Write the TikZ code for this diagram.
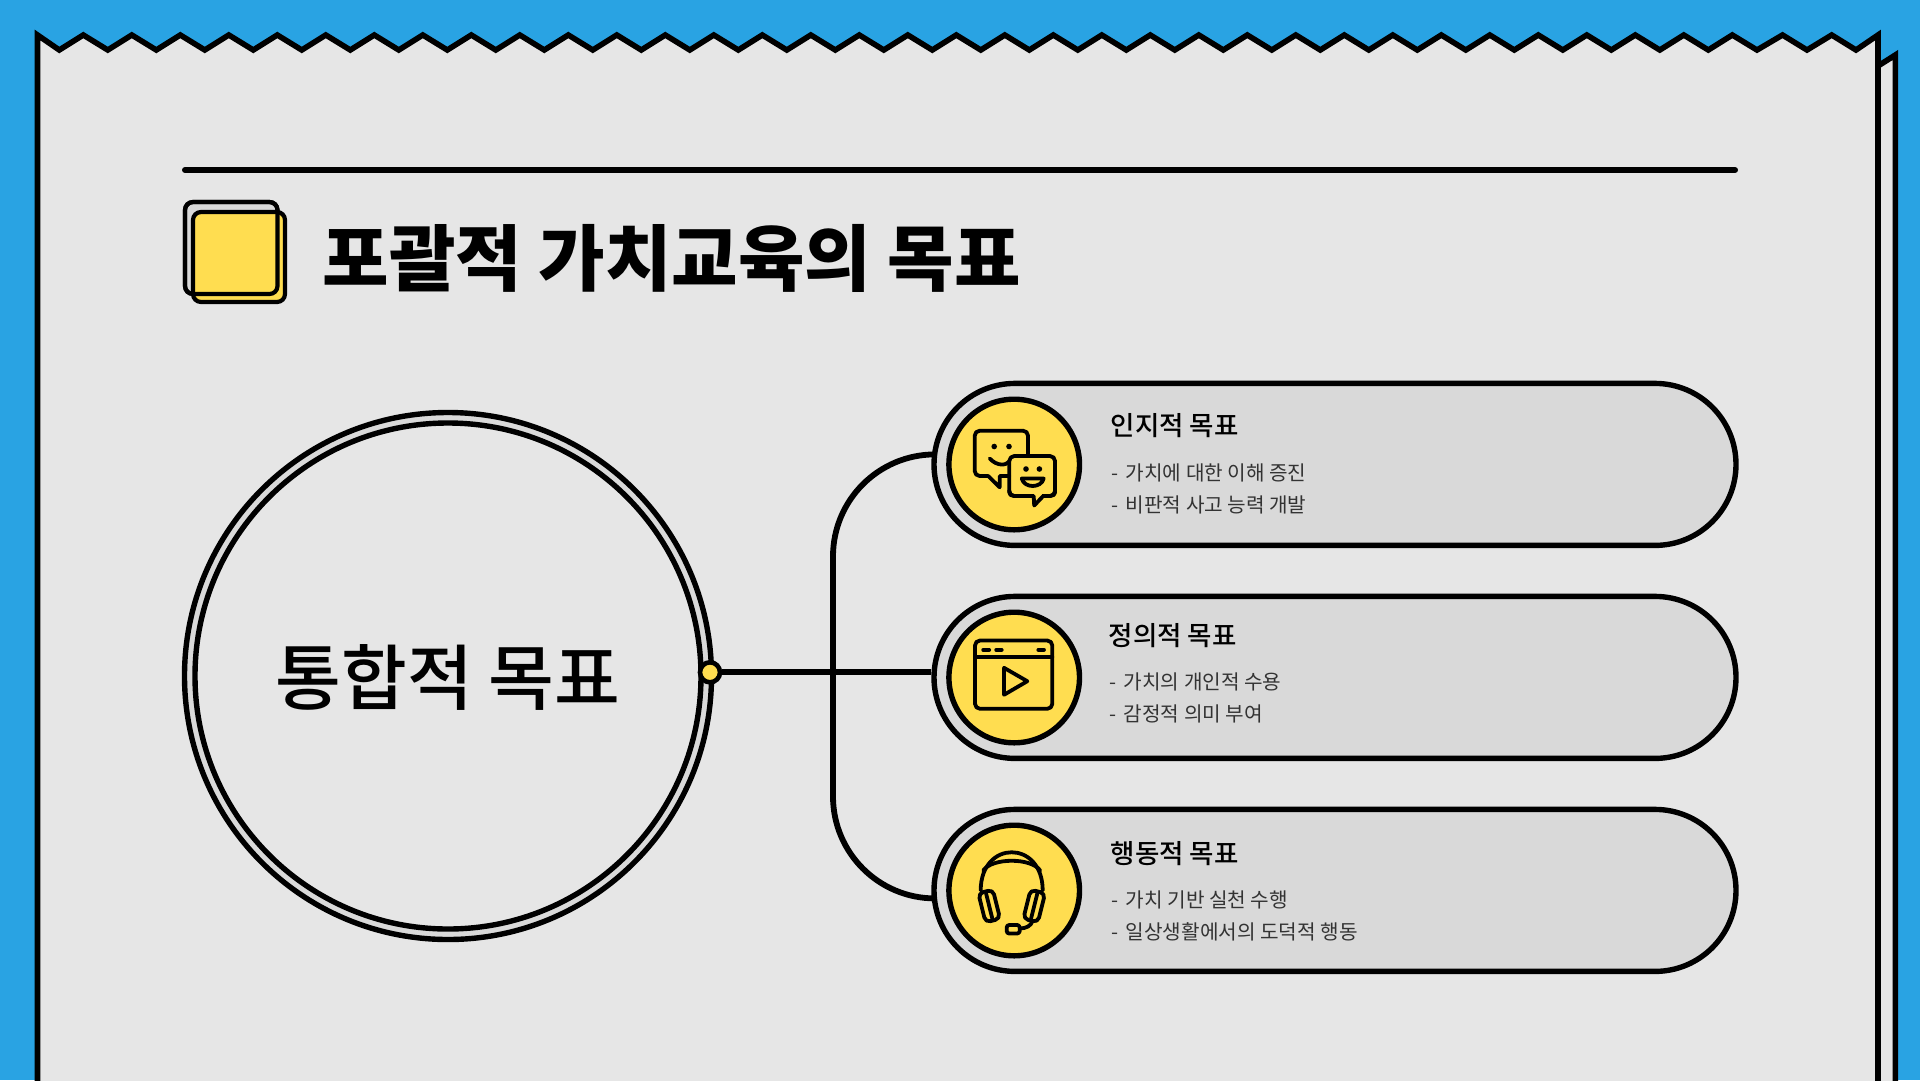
\documentclass[tikz,border=0pt]{standalone}
\usepackage{fontspec}
\setmainfont{Noto Sans CJK KR}
\newfontfamily\mediumfont{Noto Sans CJK KR Medium}
\usetikzlibrary{shapes.misc}
\definecolor{skyblue}{HTML}{29A3E3}
\definecolor{sheetgray}{HTML}{E6E6E6}
\definecolor{pillgray}{HTML}{D9D9D9}
\definecolor{badgeyellow}{HTML}{FFDD50}
\definecolor{bodytext}{HTML}{333333}
\tikzstyle{outline} = [draw=black, line width=5.6pt, line join=miter]
\tikzstyle{wire} = [draw=black, line width=5.8pt]
\tikzstyle{pill} = [rounded rectangle, minimum width=802pt, minimum height=162pt, inner sep=0pt, draw=black, line width=5.4pt, fill=pillgray]
\tikzstyle{badge} = [circle, minimum size=130.6pt, inner sep=0pt, draw=black, line width=5.4pt, fill=badgeyellow]
\tikzstyle{hub} = [circle, minimum size=20pt, inner sep=0pt, draw=black, line width=4.6pt, fill=badgeyellow]
\tikzstyle{goalhead} = [anchor=west, inner sep=0pt, font=\mediumfont\fontsize{26.5}{26.5}\selectfont]
\tikzstyle{goalbody} = [anchor=west, inner sep=0pt, text=bodytext, font=\fontsize{20.2}{20.2}\selectfont]
\tikzstyle{icon} = [draw=black, line width=3.8pt, line join=round, line cap=round]

\begin{document}
\begin{tikzpicture}[x=1pt, y=-1pt, node distance=213pt]
\useasboundingbox (0,0) rectangle (1920,1080);
\fill [skyblue] (0,0) rectangle (1920,1080);

% back sheet and front sheet
\draw [outline, fill=sheetgray] (1878,66) -- (1895.3,55) -- (1895.3,1090) -- (1878,1090) -- cycle;
\draw [outline, fill=sheetgray] (37.5,35) \foreach \i in {0,...,34} { -- (59.3+48.5*\i,50) -- (83.3+48.5*\i,35) } -- (1757,50) -- (1782.5,35) -- (1807,50) -- (1831.7,35) -- (1856,50) -- (1878,35) -- (1878,1090) -- (37.5,1090) -- cycle;

% heading
\draw [line width=6pt, line cap=round] (185,170) -- (1735,170);
\filldraw [fill=pillgray, draw=black, line width=4.2pt, rounded corners=8pt] (185,202) rectangle (277.5,294);
\filldraw [fill=badgeyellow, draw=black, line width=4.2pt, rounded corners=8pt] (193,212) rectangle (285,302);
\draw [black, line width=4.2pt, rounded corners=8pt] (185,202) rectangle (277.5,294);
\node (heading) [anchor=west, inner sep=0pt, font=\fontsize{72.3}{72.3}\selectfont\bfseries] at (322.5,258) {포괄적 가치교육의 목표};

% big circle
\node (ringouter) [circle, minimum size=527pt, inner sep=0pt, draw=black, line width=5.4pt, fill=pillgray] at (448,676) {};
\node (ringinner) [circle, minimum size=506pt, inner sep=0pt, draw=black, line width=5.4pt, fill=sheetgray] at (448,676) {};
\node (goalmain) [font=\mediumfont\fontsize{71.5}{71.5}\selectfont] at (448,677) {통합적 목표};

% pills
\node (pilla) [pill] at (1335,464.4) {};
\node (pillb) [pill, below of=pilla] {};
\node (pillc) [pill, below of=pillb] {};
\node (hubdot) [hub] at (710,672.3) {};
\coordinate (trunk) at (833,672.3);

\draw [wire] (hubdot) -- (hubdot -| pillb.west);
\draw [wire, rounded corners=102pt] ([yshift=10pt]pilla.west) -| (trunk);
\draw [wire, rounded corners=102pt] ([yshift=-8pt]pillc.west) -| (trunk);

% badges
\node (badgea) [badge] at (1014.2,464.5) {};
\node (badgeb) [badge, below of=badgea] {};
\node (badgec) [badge, below of=badgeb] {};

% chat icon
\begin{scope}[shift={(badgea.center)}]
\draw [icon, rounded corners=5pt] (13.8,-8.5) -- (13.8,-33.8) -- (-39.5,-33.8) -- (-39.5,11.5) -- (-26,11.5);
\draw [icon] (-26,11.5) -- (-14.5,22.8) -- (-14.5,11.5) -- (-5,11.5);
\draw [icon] (-24.5,-6) .. controls (-17,2) and (-8,1) .. (-5,-3);
\fill (-20,-18) circle (2.8pt);
\fill (-5.2,-18) circle (2.8pt);
\draw [icon, rounded corners=5pt] (-4.9,-8.5) rectangle (40.8,31.5);
\fill [badgeyellow] (7,29.5) rectangle (28,33.5);
\draw [icon] (-4.9,26) -- (-4.9,28) .. controls (-4.9,30) and (-3,31.5) .. (0,31.5) -- (19.5,31.5) -- (20,41) -- (29,31.5) -- (36,31.5) .. controls (39,31.5) and (40.8,30) .. (40.8,28) -- (40.8,26);
\fill (11.8,4.5) circle (2.8pt);
\fill (25.2,4.5) circle (2.8pt);
\draw [icon] (7.5,14) -- (29.5,14) .. controls (27,24) and (10,24) .. (7.5,14) -- cycle;
\end{scope}

% window icon
\begin{scope}[shift={(badgeb.center)}]
\draw [icon, rounded corners=5pt] (-39.2,-37) rectangle (38.1,31.3);
\draw [icon] (-39.2,-20.3) -- (38.1,-20.3);
\foreach \xa/\xb in {-31/-25, -18/-12.5, 24.1/29.8} {
  \draw [icon] (\xa,-27.7) -- (\xb,-27.7);
}
\draw [icon] (-10.2,-9.7) -- (13.1,3.7) -- (-10.2,17.3) -- cycle;
\end{scope}

% headset icon
\begin{scope}[shift={(badgec.center)}]
\draw [icon] (-33.5,0) .. controls (-33.5,-51) and (28.5,-51) .. (28.5,0);
\draw [icon] (-31,-20) .. controls (-22,-33) and (17,-33) .. (26,-20);
\begin{scope}[shift={(-25,15.5)}, rotate=14]
\filldraw [icon, fill=badgeyellow, rounded corners=5pt] (-7.5,-15) rectangle (7.5,15);
\draw [icon] (0,-13) -- (0,13);
\end{scope}
\begin{scope}[shift={(20,15.5)}, rotate=-14]
\filldraw [icon, fill=badgeyellow, rounded corners=5pt] (-7.5,-15) rectangle (7.5,15);
\draw [icon] (0,-13) -- (0,13);
\end{scope}
\filldraw [icon, fill=badgeyellow, rounded corners=2.5pt] (-7.5,34.5) rectangle (5.5,43);
\draw [icon] (5.5,38) .. controls (12,38) and (17,35) .. (18,31);
\end{scope}

% goal texts
\node (heada) [goalhead] at (1110.5,426) {인지적 목표};
\node (bodyaa) [goalbody] at (1111,472.7) {-\hspace{3pt} 가치에 대한 이해 증진};
\node (bodyab) [goalbody] at (1111,504.5) {-\hspace{3pt} 비판적 사고 능력 개발};
\node (headb) [goalhead] at (1108.5,635.5) {정의적 목표};
\node (bodyba) [goalbody] at (1109,681.7) {-\hspace{3pt} 가치의 개인적 수용};
\node (bodybb) [goalbody] at (1109,713.5) {-\hspace{3pt} 감정적 의미 부여};
\node (headc) [goalhead] at (1110.5,853.5) {행동적 목표};
\node (bodyca) [goalbody] at (1111,899.7) {-\hspace{3pt} 가치 기반 실천 수행};
\node (bodycb) [goalbody] at (1111,931.5) {-\hspace{3pt} 일상생활에서의 도덕적 행동};

\end{tikzpicture}
\end{document}
